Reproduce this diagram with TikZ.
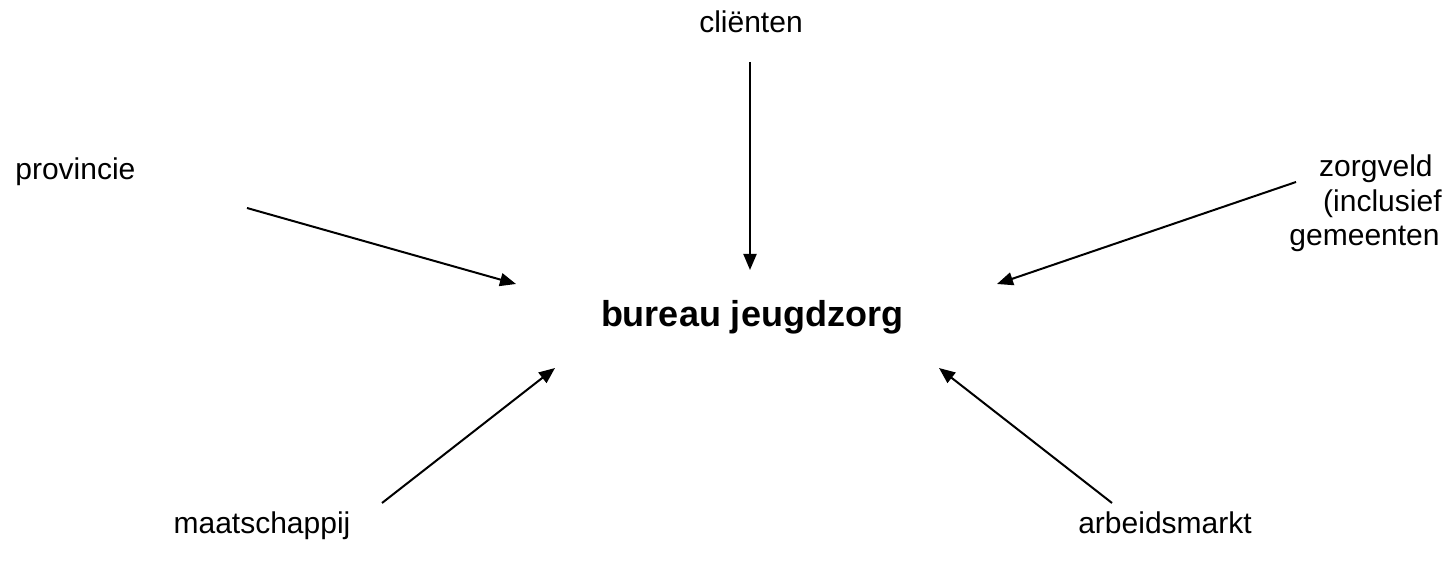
\documentclass[tikz,border=0pt]{standalone}
\usepackage{fontspec}
\setmainfont{Liberation Sans}
\usetikzlibrary{arrows.meta}
\begin{document}
\begin{tikzpicture}[x=0.5pt,y=-0.5pt,
  label/.style={inner sep=0pt,font=\fontsize{15}{17.25}\selectfont},
  centre/.style={inner sep=0pt,font=\fontsize{18}{21}\selectfont\bfseries},
  influence/.style={line width=1pt,-{Triangle[length=8pt,width=6.5pt]}}]
\useasboundingbox (0,0) rectangle (1456,561);

% central organisation
\node[centre,anchor=base] (bureau) at (752,326) {bureau jeugdzorg};

% surrounding actors
\node[label,anchor=base] (clienten) at (751,33) {cliënten};
\node[label,anchor=base west] (provincie) at (15,180) {provincie};
\node[label,anchor=base east] (zorg1) at (1433,177) {zorgveld};
\node[label,anchor=base east] (zorg2) at (1442,212) {(inclusief};
\node[label,anchor=base east] (zorg3) at (1440,246) {gemeenten};
\node[label,anchor=base] (maatschappij) at (262,533) {maatschappij};
\node[label,anchor=base] (arbeidsmarkt) at (1165,533) {arbeidsmarkt};

% arrow end points around the centre
\coordinate (c-top) at (750,62);
\coordinate (c-topend) at (750,270);
\coordinate (p-start) at (247,208);
\coordinate (p-end) at (516,284);
\coordinate (z-start) at (1296,182);
\coordinate (z-end) at (997,284);
\coordinate (m-start) at (382,503);
\coordinate (m-end) at (555,368);
\coordinate (a-start) at (1112,503);
\coordinate (a-end) at (939,368);

\draw[influence] (c-top) -- (c-topend);
\draw[influence] (p-start) -- (p-end);
\draw[influence] (z-start) -- (z-end);
\draw[influence] (m-start) -- (m-end);
\draw[influence] (a-start) -- (a-end);
\end{tikzpicture}
\end{document}
